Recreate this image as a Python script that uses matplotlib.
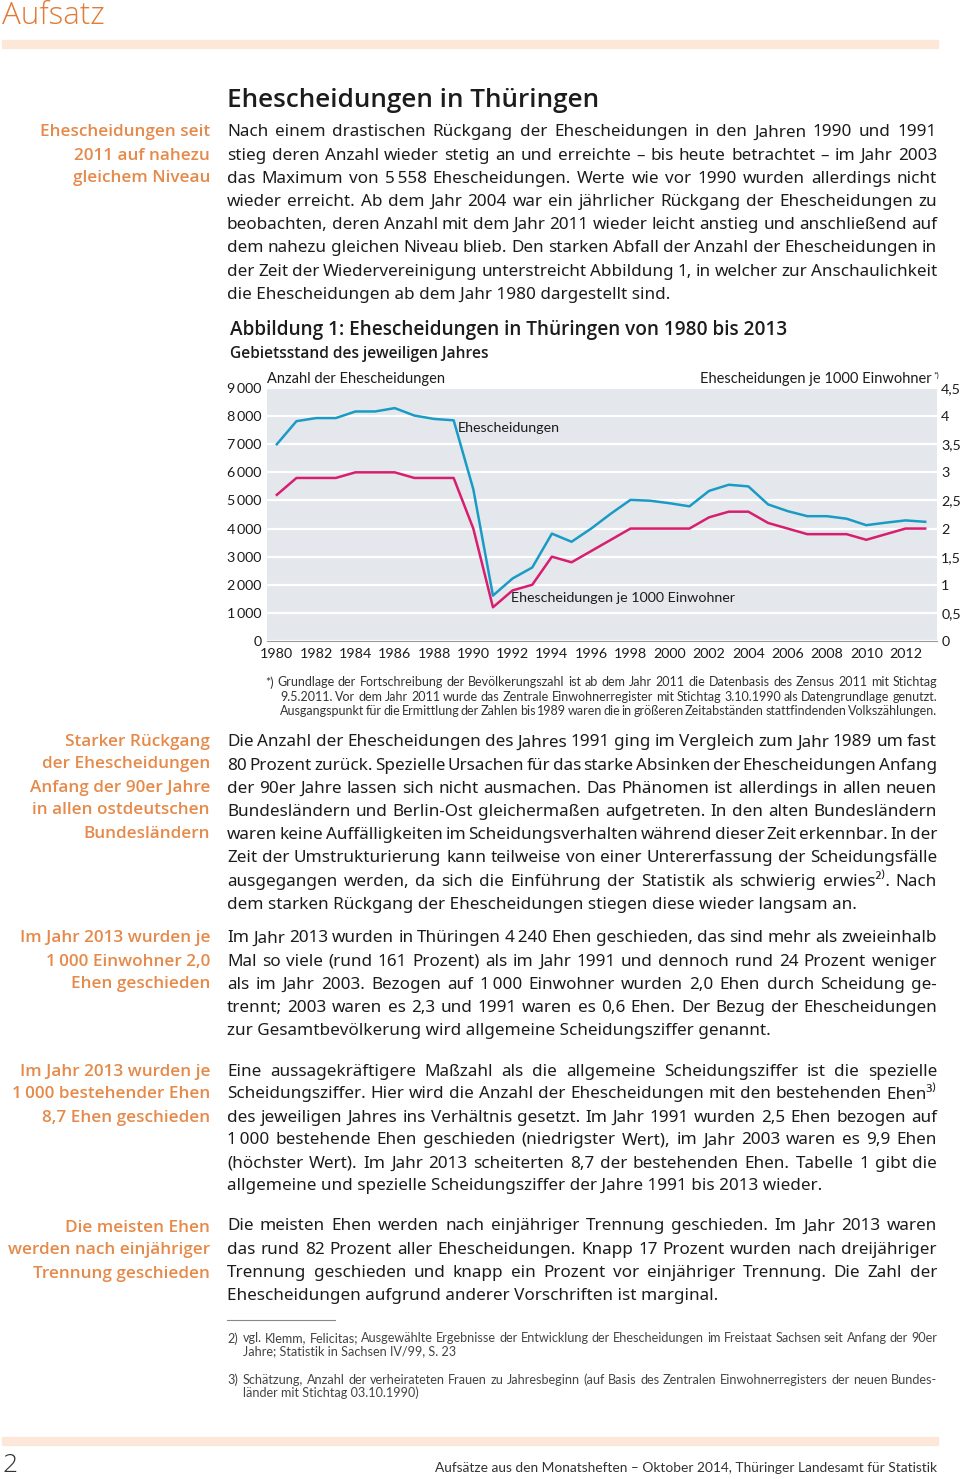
import numpy as np
import matplotlib
matplotlib.use('Agg')
import matplotlib.pyplot as plt

plt.rcParams['font.family'] = ['Noto Sans', 'DejaVu Sans']

# Daten der Abbildung
jahre = list(range(1980, 2014))
ehescheidungen = [7000, 7820, 7930, 7930, 8165, 8165, 8285, 8020, 7900, 7850,
                  5400, 1615, 2225, 2615, 3820, 3530, 4000, 4530, 5020, 4990,
                  4900, 4790, 5340, 5558, 5500, 4860, 4620, 4440, 4440, 4350,
                  4120, 4210, 4290, 4240]
je_1000_einw = [2.6, 2.9, 2.9, 2.9, 3.0, 3.0, 3.0, 2.9, 2.9, 2.9,
                2.0, 0.6, 0.9, 1.0, 1.5, 1.4, 1.6, 1.8, 2.0, 2.0,
                2.0, 2.0, 2.2, 2.3, 2.3, 2.1, 2.0, 1.9, 1.9, 1.9,
                1.8, 1.9, 2.0, 2.0]
links_ticks = [0, 1000, 2000, 3000, 4000, 5000, 6000, 7000, 8000, 9000]
links_labels = ['0', '1\u2009000', '2\u2009000', '3\u2009000', '4\u2009000', '5\u2009000',
                '6\u2009000', '7\u2009000', '8\u2009000', '9\u2009000']
rechts_ticks = [0, 0.5, 1, 1.5, 2, 2.5, 3, 3.5, 4, 4.5]
rechts_labels = ['0', '0,5', '1', '1,5', '2', '2,5', '3', '3,5', '4', '4,5']
x_ticks = list(range(1980, 2013, 2))

W, H = 960, 1479
ORANGE = '#e07b39'
ORANGE_NOTE = '#e58a4a'
BAR = '#fde7d8'
TXT = '#1c1c1c'
BLAU = '#1a9bc6'
ROT = '#d81e6e'
LATO = ['Lato', 'DejaVu Sans']
OPEN = ['Open Sans', 'DejaVu Sans']

fig = plt.figure(figsize=(W / 100, H / 100), dpi=100)
r = fig.canvas.get_renderer()


def pos(x, y):
    return x / W, 1 - y / H


def txt(x, y, s, **kw):
    kw.setdefault('va', 'center')
    kw.setdefault('color', TXT)
    return fig.text(*pos(x, y + 1.5), s, **kw)


def blocksatz(x0, x1, y, zeile, **kw):
    woerter = zeile.split(' ')
    ts = [txt(0, y, w, ha='left', **kw) for w in woerter]
    breiten = [t.get_window_extent(r).width for t in ts]
    luecke = (x1 - x0 - sum(breiten)) / max(len(woerter) - 1, 1)
    x = x0
    for t, b in zip(ts, breiten):
        t.set_position(pos(x, y + 1.5))
        x += b + luecke


def absatz(x0, x1, y0, dy, zeilen, **kw):
    for i, z in enumerate(zeilen):
        y = y0 + i * dy
        if i == len(zeilen) - 1:
            txt(x0, y, z, ha='left', **kw)
        else:
            blocksatz(x0, x1, y, z, **kw)


def randnotiz(y0, zeilen):
    for i, z in enumerate(zeilen):
        txt(210, y0 + i * 23, z, ha='right', color=ORANGE_NOTE, fontsize=12.3,
            fontweight='semibold', family=OPEN)


def balken(y, h):
    fig.patches.append(plt.Rectangle(pos(2, y + h), 936 / W, h / H, transform=fig.transFigure,
                                     color=BAR, zorder=0))


# Kopf
txt(2, 15, 'Aufsatz', ha='left', color=ORANGE, fontsize=22.5, fontweight='light', family=OPEN)
balken(40, 8)

txt(227, 99, 'Ehescheidungen in Thüringen', ha='left', fontsize=18.8, fontweight='semibold',
    family=OPEN)

BODY = dict(fontsize=12.3)

randnotiz(131, ['Ehescheidungen seit', '2011 auf nahezu', 'gleichem Niveau'])
absatz(227, 937, 131, 23.2, [
    'Nach einem drastischen Rückgang der Ehescheidungen in den Jahren 1990 und 1991',
    'stieg deren Anzahl wieder stetig an und erreichte – bis heute betrachtet – im Jahr 2003',
    'das Maximum von 5\u2009558 Ehescheidungen. Werte wie vor 1990 wurden allerdings nicht',
    'wieder erreicht. Ab dem Jahr 2004 war ein jährlicher Rückgang der Ehescheidungen zu',
    'beobachten, deren Anzahl mit dem Jahr 2011 wieder leicht anstieg und anschließend auf',
    'dem nahezu gleichen Niveau blieb. Den starken Abfall der Anzahl der Ehescheidungen in',
    'der Zeit der Wiedervereinigung unterstreicht Abbildung 1, in welcher zur Anschaulichkeit',
    'die Ehescheidungen ab dem Jahr 1980 dargestellt sind.'], **BODY)

# Abbildung
txt(230, 329, 'Abbildung 1: Ehescheidungen in Thüringen von 1980 bis 2013', ha='left',
    fontsize=13.7, fontweight='semibold', family=OPEN)
txt(230, 352, 'Gebietsstand des jeweiligen Jahres', ha='left', fontsize=11.2,
    fontweight='semibold', family=OPEN)

ax = fig.add_axes([267 / W, 1 - 641 / H, 670 / W, 253 / H])
ax.set_facecolor('#e4e8ed')
ax.plot(jahre, ehescheidungen, color=BLAU, lw=1.8, zorder=3)
ax2 = ax.twinx()
ax2.plot(jahre, je_1000_einw, color=ROT, lw=1.8, zorder=3)
ax.set_xlim(1979.5, 2013.6)
ax.set_ylim(0, 9000)
ax2.set_ylim(0, 4.5)
ax.set_yticks(links_ticks)
ax.set_yticklabels(links_labels)
ax2.set_yticks(rechts_ticks)
ax2.set_yticklabels(rechts_labels)
ax.set_xticks(x_ticks)
for a in (ax, ax2):
    for s in a.spines.values():
        s.set_visible(False)
    a.tick_params(length=0, labelsize=10.3, colors=TXT)
    for lab in a.get_xticklabels() + a.get_yticklabels():
        lab.set_family(LATO)
ax.spines['bottom'].set_visible(True)
ax.spines['bottom'].set_color('#9a9a9a')
ax.grid(axis='y', color='white', lw=1.6)
ax.set_axisbelow(True)
ax.tick_params(axis='y', pad=4)
ax2.tick_params(axis='y', pad=3)
ax.tick_params(axis='x', pad=5)
ax.text(1989.2, 7450, 'Ehescheidungen', fontsize=10.3, color=TXT, family=LATO)
ax.text(1991.9, 1380, 'Ehescheidungen je 1000 Einwohner', fontsize=10.3, color=TXT, family=LATO)
txt(267, 378, 'Anzahl der Ehescheidungen', ha='left', fontsize=10.5, family=LATO)
txt(932, 378, 'Ehescheidungen je 1000 Einwohner', ha='right', fontsize=10.5, family=LATO)
txt(933, 374, '*)', ha='left', fontsize=6, family=LATO)

FN = dict(fontsize=9.0, color='#333333', family=LATO)
txt(265, 681, '*)', ha='left', **FN)
blocksatz(277, 937, 681, 'Grundlage der Fortschreibung der Bevölkerungszahl ist ab dem Jahr 2011 die Datenbasis des Zensus 2011 mit Stichtag', **FN)
blocksatz(280, 937, 695, '9.5.2011. Vor dem Jahr 2011 wurde das Zentrale Einwohnerregister mit Stichtag 3.10.1990 als Datengrundlage genutzt.', **FN)
blocksatz(280, 937, 709, 'Ausgangspunkt für die Ermittlung der Zahlen bis 1989 waren die in größeren Zeitabständen stattfindenden Volkszählungen.', **FN)

# weitere Absätze
randnotiz(740, ['Starker Rückgang', 'der Ehescheidungen', 'Anfang der 90er Jahre',
                'in allen ostdeutschen', 'Bundesländern'])
absatz(227, 937, 741, 23.2, [
    'Die Anzahl der Ehescheidungen des Jahres 1991 ging im Vergleich zum Jahr 1989 um fast',
    '80 Prozent zurück. Spezielle Ursachen für das starke Absinken der Ehescheidungen Anfang',
    'der 90er Jahre lassen sich nicht ausmachen. Das Phänomen ist allerdings in allen neuen',
    'Bundesländern und Berlin-Ost gleichermaßen aufgetreten. In den alten Bundesländern',
    'waren keine Auffälligkeiten im Scheidungsverhalten während dieser Zeit erkennbar. In der',
    'Zeit der Umstrukturierung kann teilweise von einer Untererfassung der Scheidungsfälle',
    'ausgegangen werden, da sich die Einführung der Statistik als schwierig erwies²⁾. Nach',
    'dem starken Rückgang der Ehescheidungen stiegen diese wieder langsam an.'], **BODY)

randnotiz(937, ['Im Jahr 2013 wurden je', '1\u2009000 Einwohner 2,0', 'Ehen geschieden'])
absatz(227, 937, 937, 23.2, [
    'Im Jahr 2013 wurden in Thüringen 4\u2009240 Ehen geschieden, das sind mehr als zweieinhalb',
    'Mal so viele (rund 161 Prozent) als im Jahr 1991 und dennoch rund 24 Prozent weniger',
    'als im Jahr 2003. Bezogen auf 1\u2009000 Einwohner wurden 2,0 Ehen durch Scheidung ge-',
    'trennt; 2003 waren es 2,3 und 1991 waren es 0,6 Ehen. Der Bezug der Ehescheidungen',
    'zur Gesamtbevölkerung wird allgemeine Scheidungsziffer genannt.'], **BODY)

randnotiz(1070, ['Im Jahr 2013 wurden je', '1\u2009000 bestehender Ehen', '8,7 Ehen geschieden'])
absatz(227, 937, 1070, 23.0, [
    'Eine aussagekräftigere Maßzahl als die allgemeine Scheidungsziffer ist die spezielle',
    'Scheidungsziffer. Hier wird die Anzahl der Ehescheidungen mit den bestehenden Ehen³⁾',
    'des jeweiligen Jahres ins Verhältnis gesetzt. Im Jahr 1991 wurden 2,5 Ehen bezogen auf',
    '1\u2009000 bestehende Ehen geschieden (niedrigster Wert), im Jahr 2003 waren es 9,9 Ehen',
    '(höchster Wert). Im Jahr 2013 scheiterten 8,7 der bestehenden Ehen. Tabelle 1 gibt die',
    'allgemeine und spezielle Scheidungsziffer der Jahre 1991 bis 2013 wieder.'], **BODY)

randnotiz(1226, ['Die meisten Ehen', 'werden nach einjähriger', 'Trennung geschieden'])
absatz(227, 937, 1225, 23.3, [
    'Die meisten Ehen werden nach einjähriger Trennung geschieden. Im Jahr 2013 waren',
    'das rund 82 Prozent aller Ehescheidungen. Knapp 17 Prozent wurden nach dreijähriger',
    'Trennung geschieden und knapp ein Prozent vor einjähriger Trennung. Die Zahl der',
    'Ehescheidungen aufgrund anderer Vorschriften ist marginal.'], **BODY)

# Fußnoten
fig.add_artist(plt.Line2D([227 / W, 335 / W], [1 - 1320 / H] * 2, color='#888888', lw=0.8))
FN2 = dict(fontsize=9.1, color='#444444', family=LATO)
txt(227, 1337, '2)', ha='left', **FN2)
blocksatz(243, 937, 1337, 'vgl. Klemm, Felicitas; Ausgewählte Ergebnisse der Entwicklung der Ehescheidungen im Freistaat Sachsen seit Anfang der 90er', **FN2)
txt(243, 1350, 'Jahre; Statistik in Sachsen IV/99, S. 23', ha='left', **FN2)
txt(227, 1378, '3)', ha='left', **FN2)
blocksatz(243, 937, 1378, 'Schätzung, Anzahl der verheirateten Frauen zu Jahresbeginn (auf Basis des Zentralen Einwohnerregisters der neuen Bundes-', **FN2)
txt(243, 1391, 'länder mit Stichtag 03.10.1990)', ha='left', **FN2)

# Fuß
balken(1437, 8)
txt(2, 1464, '2', ha='left', fontsize=19, fontweight='light', color='#333333', family=OPEN)
txt(937, 1466, 'Aufsätze aus den Monatsheften – Oktober 2014, Thüringer Landesamt für Statistik',
    ha='right', fontsize=9.9, color='#333333', family=LATO)

fig.savefig('out.png', dpi=100)
